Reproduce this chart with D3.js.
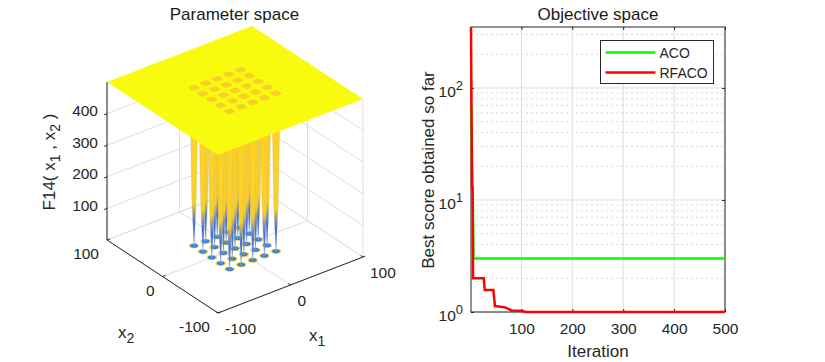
<!DOCTYPE html>
<html>
<head>
<meta charset="utf-8">
<script src="https://cdn.jsdelivr.net/npm/d3@7"></script>
<style>
    html, body { margin: 0; padding: 0; background: #fff; }
    svg { display: block; font-family: "Liberation Sans", Arial, sans-serif; }
</style>
</head>
<body>
<svg id="chart" width="825" height="362"></svg>
<script>
// left panel values
const x1Ticks = [-100, 0, 100];
const x2Ticks = [-100, 0, 100];
const zTicks = [100, 200, 300, 400];
const zTop = 500;
const foxholeCentres = [-32, -16, 0, 16, 32];
// surface profile of one foxhole: height against distance from its centre
const foxholeDepth = [1, 19, 60, 91, 154, 334, 500];
const foxholeRadius = [0.2, 0.55, 1.1, 1.6, 2.5, 3.6, 5.2];
const contourRadius = [5.6, 4.2, 1.6];

// right panel values
const iterTicks = [100, 200, 300, 400, 500];
const scoreTicks = [1, 10, 100];
const scoreMinor = [2, 3, 4, 5, 6, 7, 8, 9, 20, 30, 40, 50, 60, 70, 80, 90, 200, 300];
const acoIter = [1, 2, 3, 5, 6, 500];
const acoScore = [70, 40, 20, 8, 3, 3];
const rfacoIter = [1, 3, 4, 5, 26, 28, 45, 48, 68, 81, 103, 107, 500];
const rfacoScore = [350, 13, 13, 2, 2, 1.57, 1.57, 1.13, 1.1, 1.03, 1.02, 1, 1];

const svg = d3.select('#chart');
const defs = svg.append('defs');
const textColor = '#262626';
const gridColor = '#dedede';

// ---------- Parameter space ----------
const x1Scale = d3.scaleLinear().domain([-100, 100]).range([0, 1]);
const x2Scale = d3.scaleLinear().domain([-100, 100]).range([0, 1]);
const zScale = d3.scaleLinear().domain([0, zTop]).range([0, 158]);
const project = (x1, x2, z) => [
    218 + x1Scale(x1) * 145 - x2Scale(x2) * 111,
    313 - x1Scale(x1) * 56 - x2Scale(x2) * 73 - zScale(z)
];
const polyline = d3.line();
const left = svg.append('g');

const seg = (a, b, color, w) => left.append('path')
    .attr('d', polyline([project(...a), project(...b)]))
    .attr('fill', 'none')
    .attr('stroke', color)
    .attr('stroke-width', w || 1);

// back walls and floor grid
zTicks.concat([0]).forEach(z => {
    seg([-100, 100, z], [100, 100, z], gridColor);
    seg([100, 100, z], [100, -100, z], gridColor);
});
x1Ticks.forEach(v => {
    seg([v, 100, 0], [v, 100, zTop], gridColor);
    seg([v, -100, 0], [v, 100, 0], gridColor);
});
x2Ticks.forEach(v => {
    seg([100, v, 0], [100, v, zTop], gridColor);
    seg([-100, v, 0], [100, v, 0], gridColor);
});

// axes
seg([-100, 100, 0], [-100, 100, zTop], '#262626');
seg([-100, 100, 0], [-100, -100, 0], '#262626');
seg([-100, -100, 0], [100, -100, 0], '#262626');
zTicks.forEach(z => seg([-104, 100, z], [-100, 100, z], '#262626'));
x2Ticks.forEach(v => seg([-100, v, 0], [-96, v, 0], '#262626'));
x1Ticks.forEach(v => seg([v, -100, 0], [v, -96, 0], '#262626'));
seg([100, -100, 0], [103, -100, 0], '#262626');

const tickLabel = (pos, txt, anchor) => left.append('text')
    .attr('x', pos[0])
    .attr('y', pos[1])
    .attr('dy', '0.35em')
    .attr('text-anchor', anchor)
    .attr('font-size', 15.5)
    .attr('fill', textColor)
    .text(txt);

zTicks.forEach(z => {
    const p = project(-100, 100, z);
    tickLabel([p[0] - 9, p[1] - 3], z, 'end');
});
x2Ticks.forEach(v => {
    const p = project(-100, v, 0);
    tickLabel([p[0] - 8, p[1] + 14], v, 'end');
});
x1Ticks.forEach(v => {
    const p = project(v, -100, 0);
    tickLabel([p[0] + 7, p[1] + 16], v, 'start');
});

const holes = d3.cross(foxholeCentres, foxholeCentres)
    .sort((a, b) => (b[0] + b[1]) - (a[0] + a[1]));

// power 1 gives a circle, smaller powers a rounded square
const ring = (c, r, z, power) => polyline.curve(d3.curveLinearClosed)(
    d3.range(0, 32).map(i => {
        const t = i / 32 * 2 * Math.PI;
        const u = Math.sign(Math.cos(t)) * Math.pow(Math.abs(Math.cos(t)), power);
        const v = Math.sign(Math.sin(t)) * Math.pow(Math.abs(Math.sin(t)), power);
        return project(c[0] + r * u, c[1] + r * v, z);
    })
);

// contour on the floor
const contourColor = ['#f4cf34', '#2f80e2', '#38a9bd'];
holes.forEach(c => {
    contourRadius.forEach((r, i) => {
        left.append('path')
            .attr('d', ring(c, r, 0, 1))
            .attr('fill', contourColor[i]);
    });
});
polyline.curve(d3.curveLinear);

// the spikes, back to front
const spikeColor = d3.scaleLinear()
    .domain([0, 20, 70, 105, 135, 500])
    .range(['#a9bdf5', '#5f85ee', '#3d6bea', '#9fa27e', '#fbcf2a', '#fdd426']);

holes.forEach((c, i) => {
    const id = `spike${i}`;
    const y0 = project(c[0], c[1], 0)[1];
    const y1 = project(c[0], c[1], zTop)[1];
    const grad = defs.append('linearGradient')
        .attr('id', id)
        .attr('gradientUnits', 'userSpaceOnUse')
        .attr('x1', 0).attr('x2', 0)
        .attr('y1', y0).attr('y2', y1);
    spikeColor.domain().forEach(z => {
        grad.append('stop')
            .attr('offset', z / zTop)
            .attr('stop-color', spikeColor(z));
    });
    // screen-horizontal direction in the x1,x2 plane
    const rightSide = foxholeDepth.map((z, k) =>
        project(c[0] + foxholeRadius[k] * 0.793, c[1] - foxholeRadius[k] * 0.608, z));
    const leftSide = foxholeDepth.map((z, k) =>
        project(c[0] - foxholeRadius[k] * 0.793, c[1] + foxholeRadius[k] * 0.608, z));
    left.append('path')
        .attr('d', polyline(rightSide.concat(leftSide.reverse())) + 'Z')
        .attr('fill', `url(#${id})`)
        .attr('stroke', '#a8a58a')
        .attr('stroke-opacity', 0.45)
        .attr('stroke-width', 0.5);
});

// flat top of the surface
left.append('path')
    .attr('d', polyline([
        project(-100, -100, zTop),
        project(100, -100, zTop),
        project(100, 100, zTop),
        project(-100, 100, zTop)
    ]) + 'Z')
    .attr('fill', '#f9fb0e');

holes.forEach(c => {
    left.append('path').attr('d', ring(c, 5.4, zTop, 0.6)).attr('fill', '#f8d028');
});
polyline.curve(d3.curveLinear);

const titleText = (x, txt) => svg.append('text')
    .attr('x', x)
    .attr('y', 20)
    .attr('text-anchor', 'middle')
    .attr('font-size', 17)
    .attr('fill', '#1a1a1a')
    .text(txt);

titleText(234.5, 'Parameter space');

// subscripted axis names
const subLabel = (x, y, name, sub) => {
    const t = svg.append('text')
        .attr('x', x)
        .attr('y', y)
        .attr('font-size', 17)
        .attr('fill', textColor)
        .text(name);
    t.append('tspan').attr('dy', 5).attr('font-size', 14).text(sub);
};
subLabel(118, 338, 'x', '2');
subLabel(309, 341, 'x', '1');

const zLabel = svg.append('text')
    .attr('transform', 'translate(55,162) rotate(-90)')
    .attr('text-anchor', 'middle')
    .attr('font-size', 17)
    .attr('fill', textColor)
    .text('F14( x');
zLabel.append('tspan').attr('dy', 5).attr('font-size', 14).text('1');
zLabel.append('tspan').attr('dy', -5).text(' , x');
zLabel.append('tspan').attr('dy', 5).attr('font-size', 14).text('2');
zLabel.append('tspan').attr('dy', -5).text(' )');

// ---------- Objective space ----------
const area = { left: 471, right: 725, top: 27, bottom: 312 };
const xScale = d3.scaleLinear().domain([1, 500]).range([area.left, area.right]);
const yScale = d3.scaleLog().domain([1, 350]).range([area.bottom, area.top]);

const right = svg.append('g');

right.selectAll('.minor')
    .data(scoreMinor)
    .join('line')
    .attr('class', 'minor')
    .attr('x1', area.left).attr('x2', area.right)
    .attr('y1', d => yScale(d)).attr('y2', d => yScale(d))
    .attr('stroke', '#d8d8d8')
    .attr('stroke-dasharray', '2,3');

right.selectAll('.major')
    .data(scoreTicks)
    .join('line')
    .attr('class', 'major')
    .attr('x1', area.left).attr('x2', area.right)
    .attr('y1', d => yScale(d)).attr('y2', d => yScale(d))
    .attr('stroke', gridColor);

right.selectAll('.vgrid')
    .data(iterTicks)
    .join('line')
    .attr('class', 'vgrid')
    .attr('x1', d => xScale(d)).attr('x2', d => xScale(d))
    .attr('y1', area.top).attr('y2', area.bottom)
    .attr('stroke', gridColor);

right.append('rect')
    .attr('x', area.left).attr('y', area.top)
    .attr('width', area.right - area.left)
    .attr('height', area.bottom - area.top)
    .attr('fill', 'none')
    .attr('stroke', '#262626');

const xAxis = d3.axisBottom(xScale).tickValues(iterTicks).tickSizeInner(-3).tickSizeOuter(0).tickPadding(11);
right.append('g')
    .attr('transform', `translate(0,${area.bottom})`)
    .call(xAxis)
    .call(g => g.select('.domain').remove())
    .call(g => g.selectAll('line').attr('stroke', '#262626'))
    .call(g => g.selectAll('text').attr('font-size', 15.5).attr('font-family', 'inherit').attr('fill', textColor));

const xAxisTop = d3.axisTop(xScale).tickValues(iterTicks).tickSizeInner(-3).tickSizeOuter(0).tickFormat('');
right.append('g')
    .attr('transform', `translate(0,${area.top})`)
    .call(xAxisTop)
    .call(g => g.select('.domain').remove())
    .call(g => g.selectAll('line').attr('stroke', '#262626'));

const yAxis = d3.axisLeft(yScale).tickValues(scoreTicks).tickSizeInner(-3).tickSizeOuter(0).tickPadding(14).tickFormat('');
right.append('g')
    .attr('transform', `translate(${area.left},0)`)
    .call(yAxis)
    .call(g => g.select('.domain').remove())
    .call(g => g.selectAll('line').attr('stroke', '#262626'));

const yAxisRight = d3.axisRight(yScale).tickValues(scoreTicks).tickSizeInner(-3).tickSizeOuter(0).tickFormat('');
right.append('g')
    .attr('transform', `translate(${area.right},0)`)
    .call(yAxisRight)
    .call(g => g.select('.domain').remove())
    .call(g => g.selectAll('line').attr('stroke', '#262626'));

scoreTicks.forEach(d => {
    const t = right.append('text')
        .attr('x', area.left - 8)
        .attr('y', yScale(d) + 9)
        .attr('text-anchor', 'end')
        .attr('font-size', 15.5)
        .attr('fill', textColor)
        .text('10');
    t.append('tspan').attr('dy', -7).attr('font-size', 13).text(Math.log10(d));
});

const curve = d3.line().x(d => xScale(d[0])).y(d => yScale(d[1]));

right.append('path')
    .attr('d', curve(d3.zip(acoIter, acoScore)))
    .attr('fill', 'none')
    .attr('stroke', '#00ff00')
    .attr('stroke-width', 2.5);

right.append('path')
    .attr('d', curve(d3.zip(rfacoIter, rfacoScore)))
    .attr('fill', 'none')
    .attr('stroke', '#ff0000')
    .attr('stroke-width', 2.5);

titleText(598, 'Objective space');

right.append('text')
    .attr('x', 598)
    .attr('y', 357)
    .attr('text-anchor', 'middle')
    .attr('font-size', 17)
    .attr('fill', textColor)
    .text('Iteration');

right.append('text')
    .attr('transform', 'translate(434,170) rotate(-90)')
    .attr('text-anchor', 'middle')
    .attr('font-size', 17)
    .attr('fill', textColor)
    .text('Best score obtained so far');

// legend
const legend = right.append('g').attr('transform', 'translate(600.5,40.5)');
legend.append('rect')
    .attr('width', 113)
    .attr('height', 43)
    .attr('fill', '#fff')
    .attr('stroke', '#262626');
[['ACO', '#00ff00'], ['RFACO', '#ff0000']].forEach((d, i) => {
    legend.append('line')
        .attr('x1', 5).attr('x2', 55)
        .attr('y1', 12 + i * 20).attr('y2', 12 + i * 20)
        .attr('stroke', d[1])
        .attr('stroke-width', 2.5);
    legend.append('text')
        .attr('x', 59)
        .attr('y', 17 + i * 20)
        .attr('font-size', 14)
        .attr('fill', textColor)
        .text(d[0]);
});
</script>
</body>
</html>
